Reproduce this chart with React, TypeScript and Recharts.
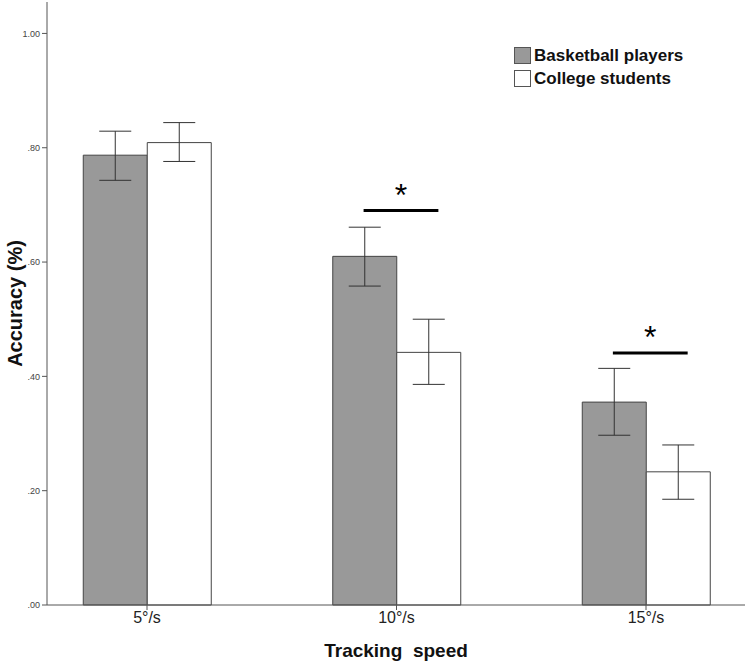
import { BarChart, Bar, XAxis, YAxis, ErrorBar, ReferenceLine, Legend, Label } from "recharts";

// tracking speeds on the x axis
const speeds = ["5°/s", "10°/s", "15°/s"];

// mean accuracy and 95% CI bounds
const players = [0.787, 0.61, 0.355];
const playersLow = [0.743, 0.558, 0.297];
const playersHigh = [0.829, 0.661, 0.414];

const students = [0.809, 0.442, 0.233];
const studentsLow = [0.776, 0.386, 0.185];
const studentsHigh = [0.844, 0.5, 0.28];

const yTicks = [0, 0.2, 0.4, 0.6, 0.8, 1.0];

// significance markers: category index and height of the bar line
const sigCats = [1, 2];
const sigHeights = [0.69, 0.441];

const data = speeds.map((speed, i) => ({
  speed,
  idx: i,
  players: players[i],
  playersErr: [players[i] - playersLow[i], playersHigh[i] - players[i]],
  students: students[i],
  studentsErr: [students[i] - studentsLow[i], studentsHigh[i] - students[i]],
}));

const FONT = "'Liberation Sans', Arial, sans-serif";

const fmtTick = (v: number) => v.toFixed(2).replace(/^0/, "");

function LegendBox(props: any) {
  const { payload } = props;
  return (
    <div style={{ fontFamily: FONT, fontWeight: 700, fontSize: "17px", color: "#111" }}>
      {payload.map((p: any) => (
        <div key={p.value} style={{ display: "flex", alignItems: "center", height: 23 }}>
          <span
            style={{
              display: "inline-block",
              width: 15,
              height: 15,
              background: p.payload.fill,
              border: "1px solid #555",
              marginRight: 3,
            }}
          />
          {p.value}
        </div>
      ))}
    </div>
  );
}

export default function App() {
  return (
    <div style={{ position: "absolute", left: 0, top: 0, background: "#fff" }}>
      <BarChart
        width={747}
        height={663}
        data={data}
        margin={{ top: 2, right: 2, bottom: 0, left: 0 }}
        barGap={0}
        barSize={64}
      >
        <XAxis
          dataKey="speed"
          padding={{ left: -24.75, right: -25.75 }}
          axisLine={{ stroke: "#555" }}
          tickLine={{ stroke: "#555" }}
          tickSize={5}
          tick={{ fontSize: 16, fill: "#222", fontFamily: FONT }}
          height={58}
        >
          <Label
            value={"Tracking\u00a0 speed"}
            position="insideBottom"
            offset={6}
            style={{ fontSize: 19, fontWeight: 700, fill: "#111", fontFamily: FONT }}
          />
        </XAxis>
        <XAxis
          xAxisId="num"
          dataKey="idx"
          type="number"
          orientation="top"
          domain={[-0.4, 2.4]}
          allowDataOverflow
          height={0}
          tick={false}
          tickLine={false}
          axisLine={{ stroke: "#777" }}
        />
        <YAxis
          width={47}
          domain={[0, 1.055]}
          ticks={yTicks}
          tickFormatter={fmtTick}
          axisLine={{ stroke: "#555" }}
          tickLine={{ stroke: "#555" }}
          tickSize={5}
          tick={{ fontSize: 9, fill: "#444", fontFamily: FONT }}
        >
          <Label
            value="Accuracy (%)"
            angle={-90}
            position="insideLeft"
            offset={15}
            style={{ fontSize: 20, fontWeight: 700, fill: "#111", fontFamily: FONT, textAnchor: "middle" }}
          />
        </YAxis>
        <YAxis
          yAxisId="right"
          orientation="right"
          width={0}
          domain={[0, 1]}
          tick={false}
          tickLine={false}
          axisLine={{ stroke: "#777" }}
        />
        <Legend
          layout="vertical"
          align="center"
          verticalAlign="middle"
          content={<LegendBox />}
          wrapperStyle={{ left: 514, top: 44, width: 220 }}
        />
        <Bar
          dataKey="players"
          name="Basketball players"
          fill="#999999"
          stroke="#444"
          strokeWidth={1}
          isAnimationActive={false}
        >
          <ErrorBar dataKey="playersErr" width={16} stroke="#333" strokeWidth={1} direction="y" />
        </Bar>
        <Bar
          dataKey="students"
          name="College students"
          fill="#ffffff"
          stroke="#444"
          strokeWidth={1}
          isAnimationActive={false}
        >
          <ErrorBar dataKey="studentsErr" width={16} stroke="#333" strokeWidth={1} direction="y" />
        </Bar>
        {sigCats.map((c, i) => (
          <ReferenceLine
            key={c}
            xAxisId="num"
            segment={[
              { x: c - 0.13, y: sigHeights[i] },
              { x: c + 0.17, y: sigHeights[i] },
            ]}
            ifOverflow="visible"
            stroke="#000"
            strokeWidth={3}
            label={{ value: "*", position: "top", fontSize: 32, fill: "#000", fontFamily: FONT }}
          />
        ))}
      </BarChart>
    </div>
  );
}
